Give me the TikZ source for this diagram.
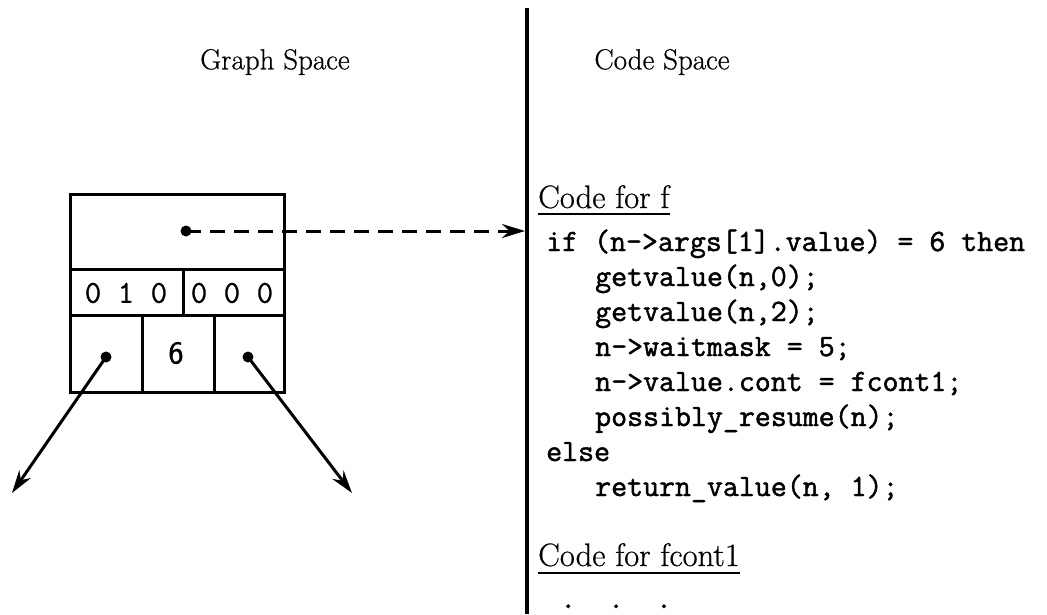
\documentclass[tikz,border=0pt]{standalone}
\usepackage{fontspec}
\setmainfont{Latin Modern Roman}
\newfontfamily\headfont{Latin Modern Roman}[FakeBold=0.6]
\newfontfamily\codefont{Latin Modern Mono}[FakeBold=1.5]
\newfontfamily\bitfont{Latin Modern Mono}[FakeBold=0.8]
\newfontfamily\valfont{Latin Modern Sans}[FakeBold=1.2]
\usetikzlibrary{arrows.meta,calc}

\begin{document}
\begin{tikzpicture}[x=1pt,y=-1pt,
  frame/.style={line width=3pt},
  ptr/.style={line width=3pt,-{Stealth[length=23pt,width=14pt]}},
  pdot/.style={circle,fill,inner sep=0pt,minimum size=11pt},
  head/.style={inner sep=0pt,font=\headfont\fontsize{29}{33}\selectfont},
  code/.style={anchor=base west,inner sep=0pt,font=\codefont\fontsize{31}{35}\selectfont},
  title/.style={anchor=base west,inner sep=0pt,font=\headfont\fontsize{32.5}{36}\selectfont},
  bits/.style={inner sep=0pt,font=\bitfont\fontsize{32}{36}\selectfont},
  uline/.style={line width=2.2pt},
]
\useasboundingbox (0,0) rectangle (1047,614);

% headings and the divider between the two spaces
\node[head] (gs) at (275,62) {Graph Space};
\node[head] (cs) at (662,62) {Code Space};
\coordinate (divtop) at (527,8);
\coordinate (divbot) at (527,614);
\draw[line width=3.2pt] (divtop) -- (divbot);

% the graph node record
\draw[frame] (70,194) rectangle (284,392);
\draw[frame] (70,269) -- (284,269);
\draw[frame] (70,315) -- (284,315);
\draw[frame] (183,269) -- (183,315);
\draw[frame] (142,315) -- (142,392);
\draw[frame] (214,315) -- (214,392);
\node[bits] (maskA) at (126,293) {0~1~0};
\node[bits] (maskB) at (232,293) {0~0~0};
\node[inner sep=0pt,font=\valfont\fontsize{32}{36}\selectfont] (val) at (176,353) {6};

% pointers out of the record
\node[pdot] (pcode) at (186,231) {};
\node[pdot] (pleft) at (106,357) {};
\node[pdot] (pright) at (248,357) {};
\coordinate (entry) at (525,231);
\coordinate (ltip) at (12,493);
\coordinate (rtip) at (352,493);
\draw[ptr,dash pattern=on 15pt off 9pt] (pcode.center) -- (entry);
\draw[ptr] (pleft.center) -- (ltip);
\draw[ptr] (pright.center) -- (rtip);

% code for f
\node[title] (cf) at (538,208) {Code for f};
\draw[uline] ($(cf.base west)+(0,6)$) -- ($(cf.base east)+(0,6)$);
\node[code] (l1) at (546,251) {if (n->args[1].value) = 6 then};
\node[code] (l2) at (595,286) {getvalue(n,0);};
\node[code] (l3) at (595,321) {getvalue(n,2);};
\node[code] (l4) at (595,356) {n->waitmask = 5;};
\node[code] (l5) at (595,391) {n->value.cont = fcont1;};
\node[code] (l6) at (595,426) {possibly\_resume(n);};
\node[code] (l7) at (546,461) {else};
\node[code] (l8) at (595,496) {return\_value(n, 1);};

% code for the continuation
\node[title] (cc) at (538,566) {Code for fcont1};
\draw[uline] ($(cc.base west)+(0,7)$) -- ($(cc.base east)+(0,7)$);
\node[code] (more) at (560,608) {.~~.~~.};
\end{tikzpicture}
\end{document}
